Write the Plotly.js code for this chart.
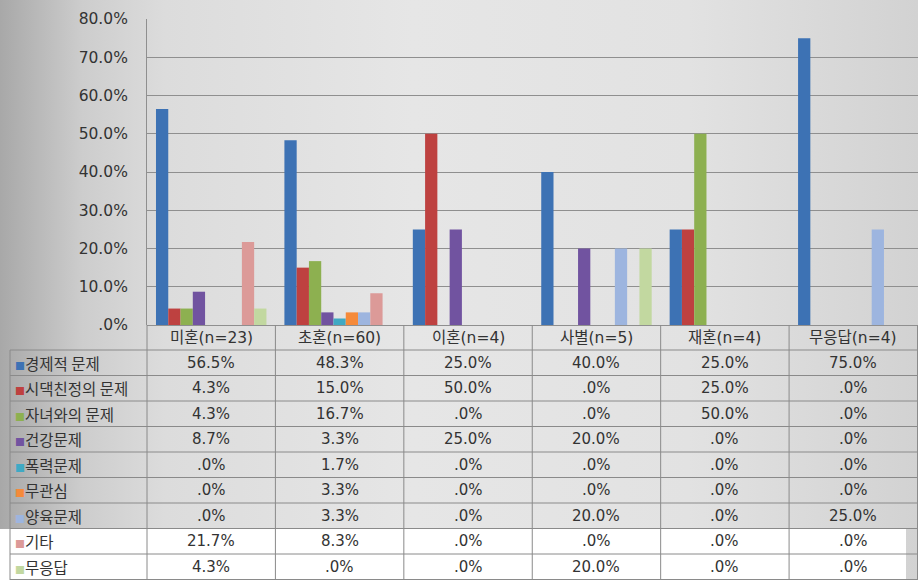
<!DOCTYPE html>
<html><head><meta charset="utf-8">
<script src="https://cdn.plot.ly/plotly-3.0.1.min.js"></script>
<style>
html,body{margin:0;padding:0;}
body{width:918px;height:580px;overflow:hidden;position:relative;
background:linear-gradient(to right,#a8a8a8 0%,#cdcdcd 9%,#dcdcdc 18%,#e6e6e6 45%,#e2e2e2 75%,#d2d2d2 100%);}
#white{position:absolute;left:0;top:529px;width:906px;height:51px;background:#fff;}
#chart{position:absolute;left:0;top:0;width:918px;height:580px;}
</style></head>
<body>
<div id="white"></div>
<div id="chart"></div>
<script>
const categories = ['미혼(n=23)','초혼(n=60)','이혼(n=4)','사별(n=5)','재혼(n=4)','무응답(n=4)'];
const seriesNames = ['경제적 문제','시댁친정의 문제','자녀와의 문제','건강문제','폭력문제','무관심','양육문제','기타','무응답'];
const economic   = [56.5, 48.3, 25.0, 40.0, 25.0, 75.0];
const inlaws     = [4.3, 15.0, 50.0, 0.0, 25.0, 0.0];
const children   = [4.3, 16.7, 0.0, 0.0, 50.0, 0.0];
const health     = [8.7, 3.3, 25.0, 20.0, 0.0, 0.0];
const violence   = [0.0, 1.7, 0.0, 0.0, 0.0, 0.0];
const indifference = [0.0, 3.3, 0.0, 0.0, 0.0, 0.0];
const childcare  = [0.0, 3.3, 0.0, 20.0, 0.0, 25.0];
const other      = [21.7, 8.3, 0.0, 0.0, 0.0, 0.0];
const noAnswer   = [4.3, 0.0, 0.0, 20.0, 0.0, 0.0];
const tickVals = [0,10,20,30,40,50,60,70,80];
const tickText = ['.0%','10.0%','20.0%','30.0%','40.0%','50.0%','60.0%','70.0%','80.0%'];

const series = [economic,inlaws,children,health,violence,indifference,childcare,other,noAnswer];
const colors = ['#3D72B4','#BE4140','#8DB050','#7153A0','#3FA9C4','#F58A3A','#9DB5DF','#DC9A98','#C2D8A0'];

const W = 918, H = 580;
const plotLeft = 147, tableLeft = 10, tableTop = 325, headerH = 25, rowH = 25.5;
const py = p => (H - p) / H;
const px = p => p / W;
const lineCol = '#8a8a8a';
const numFont = {family:'"DejaVu Sans", sans-serif', size:15, color:'#333'};
const korFont = {family:'"DejaVu Sans", "Noto Sans CJK KR", sans-serif', size:15.5, color:'#333'};
const labFont = {family:'"Noto Sans CJK KR", sans-serif', size:15.5, color:'#333'};

const fmt = v => v === 0 ? '.0%' : v.toFixed(1) + '%';

const traces = series.map((vals,i)=>({
  type:'bar', x:categories, y:vals, name:seriesNames[i],
  marker:{color:colors[i]}, hoverinfo:'skip'
}));

const annotations = [];
const shapes = [];
categories.forEach((c,ci)=>{
  annotations.push({xref:'x', yref:'paper', x:c, y:py(tableTop + headerH/2), text:c, showarrow:false,
    xanchor:'center', yanchor:'middle', font:korFont});
});
seriesNames.forEach((n,si)=>{
  const yc = py(tableTop + headerH + rowH*si + rowH/2);
  annotations.push({xref:'paper', yref:'paper', x:px(tableLeft+3), y:yc, xanchor:'left', yanchor:'middle', showarrow:false,
    text:`<span style="color:${colors[si]};font-size:10px">■</span>${n}`, font:labFont});
  categories.forEach((c,ci)=>{
    annotations.push({xref:'x', yref:'paper', x:c, y:yc, text:fmt(series[si][ci]), showarrow:false,
      xanchor:'center', yanchor:'middle', font:numFont});
  });
});
for(let k=0;k<=seriesNames.length;k++){
  const yy = py(tableTop + headerH + rowH*k);
  shapes.push({type:'line', xref:'paper', yref:'paper', x0:px(tableLeft), x1:1, y0:yy, y1:yy, line:{color:lineCol,width:1}});
}
shapes.push({type:'line', xref:'paper', yref:'paper', x0:px(tableLeft), x1:px(tableLeft), y0:py(tableTop+headerH), y1:0, line:{color:lineCol,width:1}});
for(let b=0;b<categories.length;b++){
  shapes.push({type:'line', xref:'x', yref:'paper', x0:b+0.5, x1:b+0.5, y0:py(tableTop), y1:0, line:{color:lineCol,width:1}});
}
shapes.push({type:'line', xref:'paper', yref:'paper', x0:px(plotLeft), x1:px(plotLeft), y0:py(tableTop), y1:0, line:{color:lineCol,width:1}});

const layout = {
  width:W, height:H,
  margin:{l:0,r:0,t:0,b:0},
  paper_bgcolor:'rgba(0,0,0,0)', plot_bgcolor:'rgba(0,0,0,0)',
  showlegend:false,
  barmode:'group', bargap:0.14, bargroupgap:0,
  xaxis:{domain:[px(plotLeft),1], showticklabels:false, showgrid:false, zeroline:false, showline:false, fixedrange:true},
  yaxis:{domain:[py(tableTop), py(19)], range:[0,80], tickvals:tickVals, ticktext:tickText,
    showgrid:true, gridcolor:'#8f8f8f', gridwidth:1, zeroline:true, zerolinecolor:'#8f8f8f',
    showline:true, linecolor:'#8f8f8f', ticks:'', ticklabelstandoff:15,
    tickfont:{family:'"DejaVu Sans", sans-serif', size:15.5, color:'#333'}, fixedrange:true},
  annotations, shapes
};

Plotly.newPlot('chart', traces, layout, {displayModeBar:false, staticPlot:true});
</script>
</body></html>
